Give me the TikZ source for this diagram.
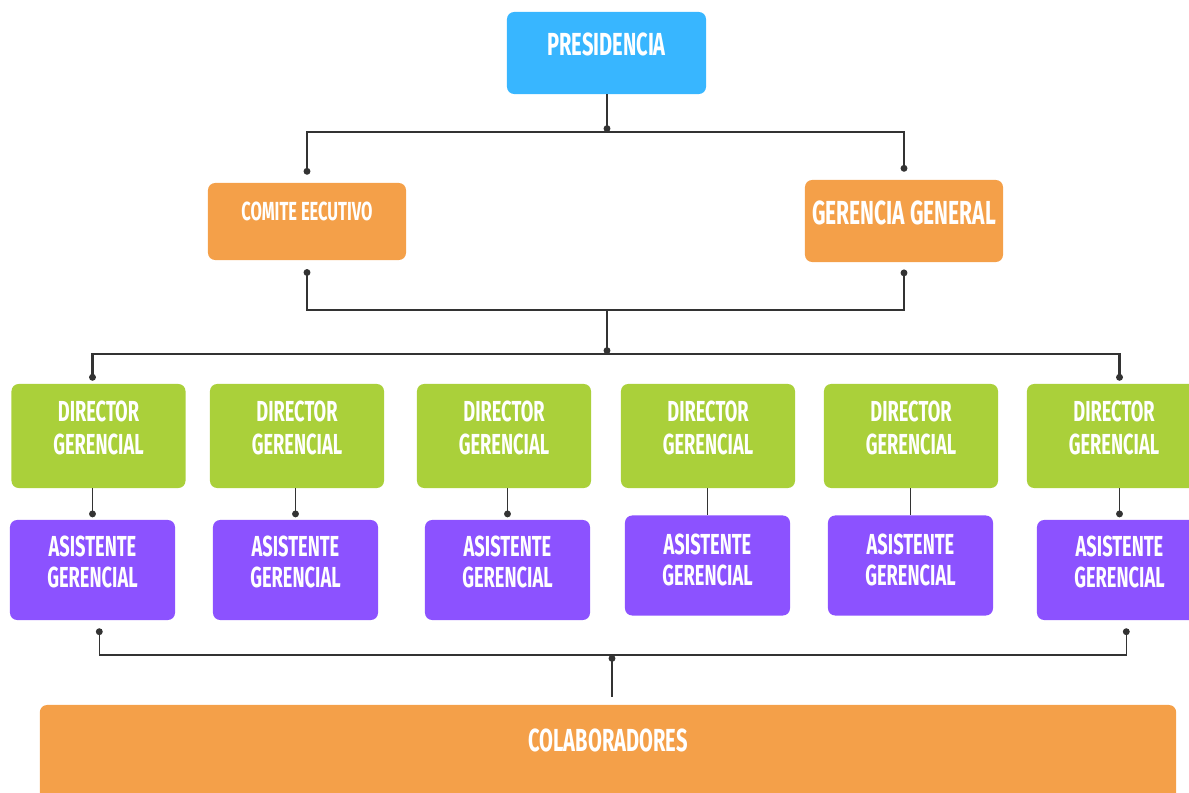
\documentclass[tikz,border=0pt]{standalone}
\usepackage{fontspec}
\newfontfamily\chartfont{Fira Sans}[FakeStretch=0.63]
\usetikzlibrary{arrows.meta}

\definecolor{presblue}{HTML}{38B6FF}
\definecolor{mgmtorange}{HTML}{F4A049}
\definecolor{dirgreen}{HTML}{AAD03A}
\definecolor{asispurple}{HTML}{8C52FF}
\definecolor{linegray}{HTML}{333333}

\tikzset{
  dot/.tip={Circle[length=0.17cm]},
  orgbox/.style={rectangle, rounded corners=0.18cm, inner sep=0pt},
  presbox/.style={orgbox, fill=presblue, minimum width=4.975cm, minimum height=2.05cm},
  mgmtbox/.style={orgbox, fill=mgmtorange, minimum width=4.95cm, minimum height=#1},
  dirbox/.style={orgbox, fill=dirgreen, minimum width=4.35cm, minimum height=2.6cm},
  asisbox/.style={orgbox, fill=asispurple, minimum width=4.125cm, minimum height=2.5cm},
  colabbox/.style={orgbox, fill=mgmtorange, minimum width=28.4cm, minimum height=2.75cm},
  boxtext/.style 2 args={text=white, align=center, inner sep=0pt,
    font=\chartfont\bfseries\fontsize{#1}{#2}\selectfont},
  link/.style={draw=linegray, line width=1.1pt},
  bus/.style={draw=linegray, line width=1.5pt},
}

\begin{document}
\begin{tikzpicture}[x=0.025cm, y=-0.025cm]
\useasboundingbox (0,0) rectangle (1189,793);
\clip (0,0) rectangle (1189,793);

% top of the chart
\node[presbox, label={[boxtext={22.7pt}{26pt}, yshift=0.22cm]center:PRESIDENCIA}] (pres) at (606.5,53) {};
\node[mgmtbox=1.925cm, label={[boxtext={18.6pt}{22pt}, yshift=0.24cm]center:COMITE EECUTIVO}] (comite) at (307,221.5) {};
\node[mgmtbox=2.05cm, label={[boxtext={23.7pt}{27pt}, yshift=0.2cm]center:GERENCIA GENERAL}] (geren) at (904,221) {};

\coordinate (t1) at (607,132);
\coordinate (t2) at (607,310);
\coordinate (t3) at (607,354);
\coordinate (bc) at (612,655);

% directors and their assistants
\foreach \i/\dx/\ax/\ay/\sh in {1/98.5/92.5/570/0.19, 2/297/295.5/570/0.19, 3/504/507.5/570/0.19,
                               4/708/707.5/565.5/0.15, 5/911/910.5/565.5/0.15, 6/1114/1119.5/570/0.19} {
  \node[dirbox, label={[boxtext={20.6pt}{23.5pt}, yshift=0.19cm]center:DIRECTOR\\GERENCIAL}] (d\i) at (\dx,436) {};
  \node[asisbox, label={[boxtext={20.6pt}{22pt}, yshift=\sh cm]center:ASISTENTE\\GERENCIAL}] (a\i) at (\ax,\ay) {};
}

\node[colabbox, label={[boxtext={22.7pt}{26pt}, yshift=0.5cm]center:COLABORADORES}] (colab) at (608,760) {};

% connectors
\draw[link, -dot] (pres.south -| t1) -- (t1);
\draw[link, dot-dot, shorten <=0.2cm, shorten >=0.2cm] (comite.north) |- (t1) -| (geren.north);
\draw[link, dot-dot, shorten <=0.22cm, shorten >=0.18cm] (comite.south) |- (t2) -| (geren.south);
\draw[link, -dot] (t2) -- (t3);
\draw[bus, dot-dot, shorten <=0.075cm, shorten >=0.075cm] (d1.north -| a1) |- (t3) -| (d6.north -| a6);

\foreach \i in {1,2,3,6}
  \draw[link, -dot, shorten >=0.06cm] (d\i.south -| a\i) -- (a\i.north);
\foreach \i in {4,5}
  \draw[link] (d\i.south -| a\i) -- (a\i.north);

\draw[link, dot-dot, shorten <=0.2cm, shorten >=0.2cm]
  ([xshift=0.17cm]a1.south) |- (bc) -| ([xshift=0.17cm]a6.south);
\draw[link, dot-, shorten >=0.2cm] (bc) -- (bc |- colab.north);

\end{tikzpicture}
\end{document}
